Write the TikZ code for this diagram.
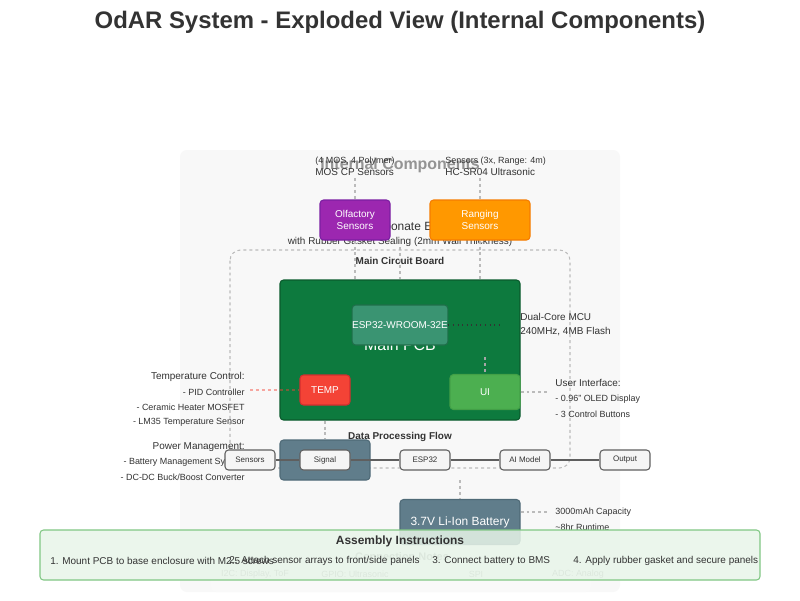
\documentclass[tikz,border=0pt]{standalone}
\usepackage{fontspec}
\setmainfont{Liberation Sans}

\definecolor{txt}{HTML}{333333}
\definecolor{guidegray}{HTML}{BBBBBB}
\definecolor{panel}{HTML}{F8F8F8}
\definecolor{olf}{HTML}{9C27B0}
\definecolor{olfdark}{HTML}{7B1FA2}
\definecolor{rng}{HTML}{FF9800}
\definecolor{rngdark}{HTML}{F57C00}
\definecolor{pcb}{HTML}{0D7A3E}
\definecolor{pcbdark}{HTML}{0A5A2D}
\definecolor{esp}{HTML}{3A9472}
\definecolor{espdark}{HTML}{1F6E4A}
\definecolor{tempred}{HTML}{F44336}
\definecolor{tempdark}{HTML}{D32F2F}
\definecolor{uigreen}{HTML}{4CAF50}
\definecolor{uidark}{HTML}{43A047}
\definecolor{power}{HTML}{607D8B}
\definecolor{powerdark}{HTML}{4F6A77}
\definecolor{flowbg}{HTML}{F5F5F5}
\definecolor{flowline}{HTML}{5F5F5F}
\definecolor{asmbg}{HTML}{E8F5E9}
\definecolor{asmborder}{HTML}{81C784}

\newcommand\pu{0.02cm}
\newcommand\pxf[1]{\fontsize{\fpeval{#1*0.567}}{\fpeval{#1*0.68}}\selectfont}

\begin{document}
\begin{tikzpicture}[x=0.02cm,y=-0.02cm,
  part/.style={draw, line width=0.6pt, rounded corners=2pt, text=white, align=center, inner sep=0pt},
  flow/.style={draw=flowline, fill=flowbg, line width=0.6pt, rounded corners=2pt,
    minimum width=50*\pu, minimum height=20*\pu, inner sep=0pt, font=\pxf{8}, text=txt},
  guide/.style={draw=guidegray, dash pattern=on 1.7pt off 1.7pt, line width=0.6pt},
  label/.style={text=txt, font=\pxf{10}, inner sep=0pt},
  item/.style={label, font=\pxf{9}}]

\useasboundingbox[fill=white] (0,0) rectangle (800,600);

\node[font=\pxf{24}\bfseries, text=txt] (title) at (400,22) {OdAR System - Exploded View (Internal Components)};

% internal components panel
\fill[panel, rounded corners=4pt] (180,150) rectangle (620,592);
\node[font=\pxf{16}\bfseries, text=black!42] (internal) at (400,165) {Internal Components};

\node[item, anchor=west] (olfnote1) at (315,161) {(4 MOS, 4 Polymer)};
\node[label, anchor=west] (olfnote2) at (315,172) {MOS CP Sensors};
\node[item, anchor=west] (rngnote1) at (445,161) {Sensors (3x, Range: 4m)};
\node[label, anchor=west] (rngnote2) at (445,172) {HC-SR04 Ultrasonic};

% enclosure
\node[text=txt, font=\pxf{12}] (encl) at (411,227) {Polycarbonate Enclosure};
\node[label] (gasket) at (400,242) {with Rubber Gasket Sealing (2mm Wall Thickness)};
\draw[guide, rounded corners=6pt] (230,250) rectangle (570,468);
\node[label, font=\pxf{10}\bfseries] (mcb) at (400,261) {Main Circuit Board};

% sensors
\node[part, fill=olf, draw=olfdark, minimum width=70*\pu, minimum height=40*\pu, font=\pxf{10}] (olf) at (355,220) {Olfactory\\Sensors};
\node[part, fill=rng, draw=rngdark, minimum width=100*\pu, minimum height=40*\pu, font=\pxf{10}] (rng) at (480,220) {Ranging\\Sensors};
\coordinate (olftop) at (355,178);
\coordinate (rngtop) at (480,178);
\draw[guide] (olftop) -- (olf);
\draw[guide] (rngtop) -- (rng);

% main pcb
\node[part, fill=pcb, draw=pcbdark, minimum width=240*\pu, minimum height=140*\pu] (pcb) at (400,350) {};
\draw[guide] (olf) -- (olf |- pcb.north);
\draw[guide] (rng) -- (rng |- pcb.north);
\draw[guide] (gasket.south) -- (gasket |- pcb.north);
\node[text=white, font=\pxf{16}] (pcblabel) at (400,345) {Main PCB};

\node[part, fill=esp, draw=espdark, minimum width=90*\pu, minimum height=40*\pu, font=\pxf{10}] (esp) at (400,325) {ESP32-WROOM-32E};
\coordinate (espend) at (500,325);
\draw[txt, dotted, line width=0.6pt] (esp) -- (espend);
\node[label, anchor=west] (mcu1) at (520,317) {Dual-Core MCU};
\node[label, anchor=west] (mcu2) at (520,332) {240MHz, 4MB Flash};

\node[part, fill=tempred, draw=tempdark, minimum width=50*\pu, minimum height=30*\pu, font=\pxf{10}] (temp) at (325,390) {TEMP};
\coordinate (tempend) at (250,390);
\draw[guide, draw=tempred, draw opacity=0.45] (tempend) -- (temp);
\node[label, anchor=east] (tc1) at (245,377) {Temperature Control:};
\node[item, anchor=east] (tc2) at (245,392) {- PID Controller};
\node[item, anchor=east] (tc3) at (245,407) {- Ceramic Heater MOSFET};
\node[item, anchor=east] (tc4) at (245,422) {- LM35 Temperature Sensor};

\node[part, fill=uigreen, draw=uidark, minimum width=70*\pu, minimum height=35*\pu, font=\pxf{10}] (ui) at (485,392) {UI};
\coordinate (uitop) at (485,357);
\coordinate (uiend) at (548,392);
\draw[guide, draw=black!35] (uitop) -- (ui);
\draw[guide] (ui) -- (uiend);
\node[label, anchor=west] (ui1) at (555,383) {User Interface:};
\node[item, anchor=west] (ui2) at (555,399) {- 0.96" OLED Display};
\node[item, anchor=west] (ui3) at (555,414) {- 3 Control Buttons};

% power
\node[part, fill=power, draw=powerdark, minimum width=90*\pu, minimum height=40*\pu] (power) at (325,460) {};
\draw[guide] (pcb.south -| power) -- (power);
\node[label, anchor=east] (pm1) at (245,447) {Power Management:};
\node[item, anchor=east] (pm2) at (245,462) {- Battery Management System};
\node[item, anchor=east] (pm3) at (245,477) {- DC-DC Buck/Boost Converter};

% data flow
\node[label, font=\pxf{10}\bfseries] (dpf) at (400,437) {Data Processing Flow};
\foreach \name/\x/\txt in {sens/250/Sensors, sig/325/Signal, espf/425/ESP32, ai/525/AI Model, out/625/Output}
  \node[flow] (\name) at (\x,460) {\txt};
\draw[flowline, line width=1pt] (sens) -- (sig) -- (espf) -- (ai) -- (out);

% battery
\node[part, fill=power, draw=powerdark, minimum width=120*\pu, minimum height=45*\pu, font=\pxf{12}] (bat) at (460,522) {3.7V Li-Ion Battery};
\coordinate (battop) at (460,480);
\coordinate (batend) at (548,512);
\draw[guide] (battop) -- (bat);
\draw[guide] (bat.east |- batend) -- (batend);
\node[item, anchor=west] (bat1) at (555,512) {3000mAh Capacity};
\node[item, anchor=west] (bat2) at (555,527) {\textasciitilde 8hr Runtime};

% connection notes
\fill[black!2.5, rounded corners=3pt] (211,546) rectangle (591,592);
\node[font=\pxf{11}\bfseries, text=black!40] (cn) at (402,557) {Connection Notes};
\foreach \name/\x/\txt in {cn1/255/{I2C: Display, ToF}, cn2/355/GPIO: Ultrasonic, cn3/476/SPI/I2C: Sensors, cn4/578/ADC: Analog}
  \node[font=\pxf{9}, text=black!40] (\name) at (\x,574) {\txt};

% assembly
\node[draw=asmborder, fill=asmbg, fill opacity=0.85, line width=0.6pt, rounded corners=2pt,
  minimum width=720*\pu, minimum height=50*\pu] (asm) at (400,555) {};
\node[label, font=\pxf{12}\bfseries] (asmtitle) at (400,541) {Assembly Instructions};
\node[label, anchor=west] (st1) at (50,561) {1. Mount PCB to base enclosure with M2.5 screws};
\node[label, anchor=west] (st2) at (229,561) {2. Attach sensor arrays to front/side panels};
\node[label, anchor=west] (st3) at (432,561) {3. Connect battery to BMS};
\node[label, anchor=west] (st4) at (573,561) {4. Apply rubber gasket and secure panels};

\end{tikzpicture}
\end{document}
